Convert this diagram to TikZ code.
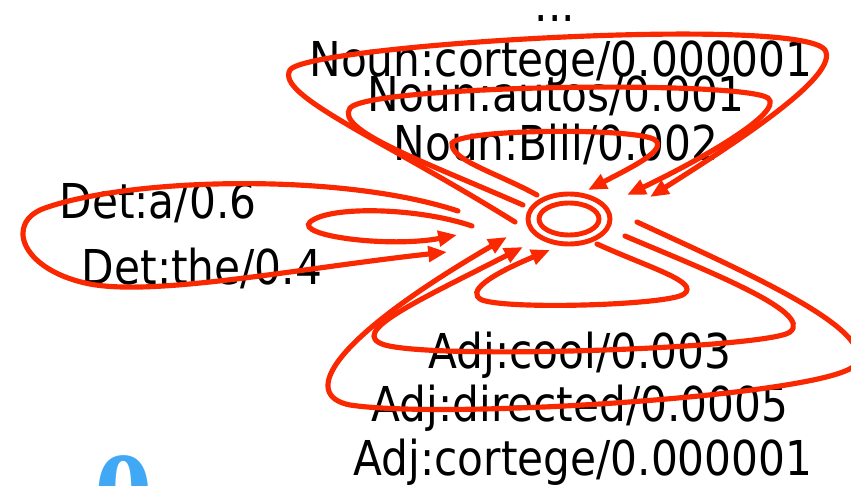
\documentclass[tikz,border=0pt]{standalone}
\usepackage{fontspec}
\setmainfont{DejaVu Sans}[FakeStretch=0.88]
\newfontfamily\zerofont{Liberation Serif}
\usepackage{xcolor}
\definecolor{arcred}{RGB}{250,40,0}
\definecolor{slideblue}{RGB}{64,168,245}
\usepackage{tikz}
\usetikzlibrary{arrows.meta,shapes.geometric}
\tikzset{
  selfarc/.style={draw=arcred,line width=4.4pt,line cap=round,-{Triangle[length=16pt,width=13pt]}},
  ring/.style={draw=arcred,line width=4.2pt},
  lbl/.style={anchor=base,inner sep=0pt,font=\fontsize{41}{42}\selectfont},
}

\begin{document}
\begin{tikzpicture}[x=0.03cm,y=-0.03cm]
\useasboundingbox (0,0) rectangle (851,486);
\clip (0,0) rectangle (851,486);
% ---- stan koncowy ----
\node[ring,ellipse,minimum width=2.46cm,minimum height=1.5cm,inner sep=0pt] (q) at (569,219) {};
\draw[ring] (q.center) ellipse [x radius=30, y radius=16];
% ---- etykiety ----
\node[lbl] (dots) at (555,22) {...};
\node[lbl] (ncortege) at (561,77) {Noun:cortege/0.000001};
\node[lbl] (nautos) at (556,112) {Noun:autos/0.001};
\node[lbl] (nbill) at (556,161) {Noun:Bill/0.002};
\node[lbl] (deta) at (158,219) {Det:a/0.6};
\node[lbl] (dethe) at (202,284) {Det:the/0.4};
\node[lbl] (acool) at (580,368) {Adj:cool/0.003};
\node[lbl] (adirected) at (580,421) {Adj:directed/0.0005};
\node[lbl] (acortege) at (583,475) {Adj:cortege/0.000001};
\node[anchor=north,inner sep=0pt,text=slideblue,font=\zerofont\bfseries\fontsize{100}{100}\selectfont] (zero) at (124,455) {0};
% ---- petle Det ----
\draw[selfarc] (458,211) .. controls (340,172) and (130,178) .. (45,208) .. controls (5,222) and (20,268) .. (85,283) .. controls (150,298) and (300,268) .. (447,252);
\draw[selfarc] (472,226) .. controls (420,208) and (330,205) .. (310,222) .. controls (295,236) and (390,248) .. (457,235);
% ---- petle Noun ----
\draw[selfarc] (537,195) .. controls (495,172) and (450,160) .. (452,143) .. controls (465,128) and (640,128) .. (655,140) .. controls (668,150) and (630,168) .. (588,190);
\draw[selfarc] (523,205) .. controls (420,160) and (335,130) .. (350,108) .. controls (370,85) and (740,80) .. (768,98) .. controls (785,112) and (700,160) .. (627,195);
\draw[selfarc] (515,222) .. controls (380,138) and (275,95) .. (290,70) .. controls (305,45) and (800,15) .. (825,50) .. controls (840,75) and (740,140) .. (650,197);
% ---- petle Adj ----
\draw[selfarc] (597,244) .. controls (650,268) and (700,282) .. (684,294) .. controls (670,305) and (510,310) .. (482,300) .. controls (465,292) and (490,275) .. (550,250);
\draw[selfarc] (625,236) .. controls (700,268) and (815,312) .. (790,332) .. controls (770,348) and (440,360) .. (385,345) .. controls (345,333) and (420,300) .. (523,247);
\draw[selfarc] (637,222) .. controls (740,270) and (880,330) .. (855,365) .. controls (830,395) and (450,420) .. (350,405) .. controls (300,395) and (330,340) .. (507,237);
\end{tikzpicture}
\end{document}
